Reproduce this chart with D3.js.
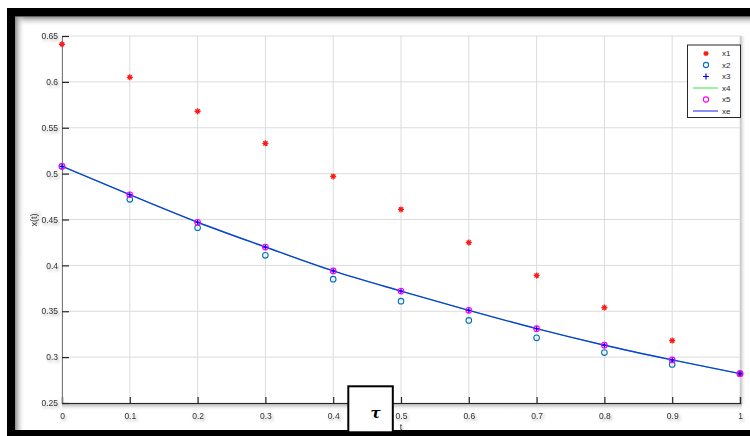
<!DOCTYPE html>
<html><head><meta charset="utf-8">
<script src="https://cdn.jsdelivr.net/npm/d3@7"></script>
<style>body{margin:0;background:#fff}svg{display:block}</style>
</head><body><div id="chart"></div>
<script>
const tValues = [0, 0.1, 0.2, 0.3, 0.4, 0.5, 0.6, 0.7, 0.8, 0.9, 1];
const x1 = [0.641, 0.605, 0.568, 0.533, 0.497, 0.461, 0.425, 0.389, 0.354, 0.318, 0.282];
const x2 = [0.508, 0.472, 0.441, 0.411, 0.385, 0.361, 0.340, 0.321, 0.305, 0.292, 0.282];
const x3 = [0.508, 0.477, 0.447, 0.420, 0.394, 0.372, 0.351, 0.331, 0.313, 0.297, 0.282];
const x4 = [0.508, 0.477, 0.447, 0.420, 0.394, 0.372, 0.351, 0.331, 0.313, 0.297, 0.282];
const x5 = [0.508, 0.477, 0.447, 0.420, 0.394, 0.372, 0.351, 0.331, 0.313, 0.297, 0.282];
const xe = [0.508, 0.477, 0.447, 0.420, 0.394, 0.372, 0.351, 0.331, 0.313, 0.297, 0.282];
const xTicks = [0, 0.1, 0.2, 0.3, 0.4, 0.5, 0.6, 0.7, 0.8, 0.9, 1];
const yTicks = [0.25, 0.3, 0.35, 0.4, 0.45, 0.5, 0.55, 0.6, 0.65];
const legendNames = ["x1", "x2", "x3", "x4", "x5", "xe"];

const W = 750, H = 436;
const svg = d3.select("#chart").append("svg").attr("width", W).attr("height", H);
const defs = svg.append("defs");
const ts = defs.append("filter").attr("id", "tshadow").attr("x", "-50%").attr("y", "-50%").attr("width", "200%").attr("height", "200%");
ts.append("feDropShadow").attr("dx", 1.5).attr("dy", 2).attr("stdDeviation", 1.6).attr("flood-color", "#000").attr("flood-opacity", 0.35);

function grad(id, x1_, y1_, x2_, y2_, c) {
  const g = defs.append("linearGradient").attr("id", id).attr("x1", x1_).attr("y1", y1_).attr("x2", x2_).attr("y2", y2_);
  g.append("stop").attr("offset", "0%").attr("stop-color", c).attr("stop-opacity", 1);
  g.append("stop").attr("offset", "100%").attr("stop-color", "#fff").attr("stop-opacity", 0);
}
grad("gDown", 0, 0, 0, 1, "#8a8a8a");
grad("gRight", 0, 0, 1, 0, "#8a8a8a");
grad("gAxis", 0, 0, 0, 1, "#9a9a9a");
grad("gRightEdge", 0, 0, 1, 0, "#b5b5b5");

const xs = d3.scaleLinear().domain([0, 1]).range([62, 740]);
const ys = d3.scaleLinear().domain([0.25, 0.65]).range([403, 36]);

// frame shadows
svg.append("rect").attr("x", 15).attr("y", 16.5).attr("width", 735).attr("height", 10).attr("fill", "url(#gDown)");
svg.append("rect").attr("x", 15).attr("y", 16.5).attr("width", 10).attr("height", 420).attr("fill", "url(#gRight)");
svg.append("rect").attr("x", 740).attr("y", 36).attr("width", 6).attr("height", 368).attr("fill", "url(#gRightEdge)");
svg.append("rect").attr("x", 62).attr("y", 403).attr("width", 680).attr("height", 8).attr("fill", "url(#gAxis)");

// grid
const grid = svg.append("g");
grid.selectAll("line.gx").data(xTicks).join("line")
  .attr("x1", d => xs(d)).attr("x2", d => xs(d)).attr("y1", ys(0.65)).attr("y2", ys(0.25))
  .attr("stroke", "#dcdcdc").attr("stroke-width", 1);
grid.selectAll("line.gy").data(yTicks).join("line")
  .attr("x1", xs(0)).attr("x2", xs(1)).attr("y1", d => ys(d)).attr("y2", d => ys(d))
  .attr("stroke", "#dcdcdc").attr("stroke-width", 1);

// axes
const xAxis = d3.axisBottom(xs).tickValues(xTicks).tickSize(-6).tickPadding(10).tickFormat(d3.format("~g"));
const yAxis = d3.axisLeft(ys).tickValues(yTicks).tickSize(-7).tickPadding(4).tickFormat(d3.format("~g"));
const gx = svg.append("g").attr("transform", "translate(0,403)").call(xAxis);
const gy = svg.append("g").attr("transform", "translate(62,0)").call(yAxis);
gx.select(".domain").attr("stroke", "#262626").attr("stroke-width", 1.2);
gy.select(".domain").attr("stroke", "#7a7a7a").attr("stroke-width", 1);
[gx, gy].forEach(g => {
  g.selectAll(".tick line").attr("stroke", "#262626").attr("stroke-width", 1.2);
  g.selectAll(".tick text").attr("fill", "#333").attr("font-family", "Liberation Sans, Arial, sans-serif")
    .attr("font-size", 8.5).attr("filter", "url(#tshadow)");
});
gy.selectAll(".tick text").attr("dy", "0.32em");

// axis labels
svg.append("text").attr("x", 401).attr("y", 430).attr("text-anchor", "middle")
  .attr("font-family", "Liberation Sans, Arial, sans-serif").attr("font-size", 9).attr("fill", "#333")
  .attr("filter", "url(#tshadow)").text("t");
svg.append("text").attr("transform", "translate(37,220) rotate(-90)").attr("text-anchor", "middle")
  .attr("font-family", "Liberation Sans, Arial, sans-serif").attr("font-size", 9).attr("fill", "#333")
  .attr("filter", "url(#tshadow)").text("x(t)");

// lines
const line = d3.line().x((d, i) => xs(tValues[i])).y(d => ys(d)).curve(d3.curveMonotoneX);
svg.append("path").datum(x4).attr("d", line).attr("fill", "none").attr("stroke", "#33dd33").attr("stroke-width", 0.8);
svg.append("path").datum(xe).attr("d", line).attr("fill", "none").attr("stroke", "#0a3fd8").attr("stroke-width", 1.4);

// markers
function asterisk(g, cx, cy, s, color) {
  const a = s;
  g.append("path").attr("d",
    `M${cx - a},${cy}L${cx + a},${cy}M${cx},${cy - a}L${cx},${cy + a}` +
    `M${cx - a * 0.7},${cy - a * 0.7}L${cx + a * 0.7},${cy + a * 0.7}M${cx - a * 0.7},${cy + a * 0.7}L${cx + a * 0.7},${cy - a * 0.7}`)
    .attr("stroke", color).attr("stroke-width", 1.3).attr("fill", "none");
}
function plus(g, cx, cy, s, color) {
  g.append("path").attr("d", `M${cx - s},${cy}L${cx + s},${cy}M${cx},${cy - s}L${cx},${cy + s}`)
    .attr("stroke", color).attr("stroke-width", 1.2).attr("fill", "none");
}
const mk = svg.append("g");
x1.forEach((v, i) => asterisk(mk, xs(tValues[i]), ys(v), 3, "#ff1a1a"));
mk.selectAll("circle.x2").data(x2).join("circle").attr("class", "x2")
  .attr("cx", (d, i) => xs(tValues[i])).attr("cy", d => ys(d)).attr("r", 2.8)
  .attr("fill", "none").attr("stroke", "#0072bd").attr("stroke-width", 1.1);
x3.forEach((v, i) => plus(mk, xs(tValues[i]), ys(v), 3, "#0000ff"));
const mk2 = svg.append("g");
mk2.selectAll("circle.x5").data(x5).join("circle").attr("class", "x5")
  .attr("cx", (d, i) => xs(tValues[i])).attr("cy", d => ys(d)).attr("r", 2.8)
  .attr("fill", "none").attr("stroke", "#ff00ff").attr("stroke-width", 1.1);

// legend
const lg = svg.append("g");
lg.append("rect").attr("x", 687.5).attr("y", 45).attr("width", 53).attr("height", 72.5)
  .attr("fill", "#fff").attr("stroke", "#262626").attr("stroke-width", 1);
const ly = d => 53.5 + d * 11.5;
legendNames.forEach((name, i) => {
  const y = ly(i);
  const cx = 706;
  if (i === 0) asterisk(lg, cx, y, 2.6, "#ff1a1a");
  if (i === 1) lg.append("circle").attr("cx", cx).attr("cy", y).attr("r", 2.6).attr("fill", "none").attr("stroke", "#0072bd").attr("stroke-width", 1.1);
  if (i === 2) plus(lg, cx, y, 3, "#0000ff");
  if (i === 3) lg.append("line").attr("x1", 693).attr("x2", 718).attr("y1", y).attr("y2", y).attr("stroke", "#55ee55").attr("stroke-width", 1.2);
  if (i === 4) lg.append("circle").attr("cx", cx).attr("cy", y).attr("r", 2.6).attr("fill", "none").attr("stroke", "#ff00ff").attr("stroke-width", 1.1);
  if (i === 5) lg.append("line").attr("x1", 693).attr("x2", 718).attr("y1", y).attr("y2", y).attr("stroke", "#7070ff").attr("stroke-width", 1.6);
  lg.append("text").attr("x", 722).attr("y", y).attr("dy", "0.35em")
    .attr("font-family", "Liberation Sans, Arial, sans-serif").attr("font-size", 8).attr("fill", "#262626").text(name);
});

// black frame
svg.append("rect").attr("x", 7).attr("y", 8).attr("width", 743).attr("height", 8.5).attr("fill", "#000");
svg.append("rect").attr("x", 7).attr("y", 8).attr("width", 8).attr("height", 428).attr("fill", "#000");
svg.append("rect").attr("x", 7).attr("y", 430).attr("width", 743).attr("height", 6).attr("fill", "#000");

// tau box
svg.append("rect").attr("x", 348.3).attr("y", 386.3).attr("width", 44.5).attr("height", 46)
  .attr("fill", "#fff").attr("stroke", "#000").attr("stroke-width", 2);
svg.append("text").attr("x", 375.5).attr("y", 418).attr("text-anchor", "middle")
  .attr("font-family", "DejaVu Serif, serif").attr("font-weight", "bold").attr("font-style", "italic")
  .attr("font-size", 15).attr("fill", "#000").text("τ");
</script></body></html>
